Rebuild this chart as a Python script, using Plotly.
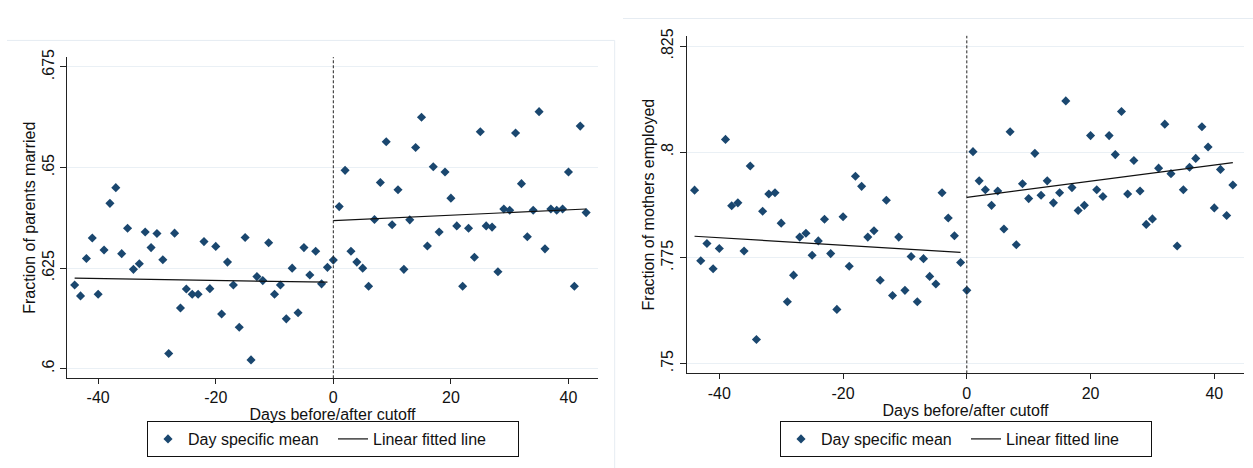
import plotly.graph_objects as go

# ---------------- data ----------------
days_pre = [-44, -43, -42, -41, -40, -39, -38, -37, -36, -35, -34, -33, -32, -31, -30,
            -29, -28, -27, -26, -25, -24, -23, -22, -21, -20, -19, -18, -17, -16, -15,
            -14, -13, -12, -11, -10, -9, -8, -7, -6, -5, -4, -3, -2, -1]
days_post = [0, 1, 2, 3, 4, 5, 6, 7, 8, 9, 10, 11, 12, 13, 14, 15, 16, 17, 18, 19, 20,
             21, 22, 23, 24, 25, 26, 27, 28, 29, 30, 31, 32, 33, 34, 35, 36, 37, 38, 39,
             40, 41, 42, 43]

married_pre = [.6208, .6181, .6274, .6325, .6185, .6295, .6411, .6450, .6286, .6349,
               .6247, .6261, .6340, .6301, .6336, .6271, .6038, .6337, .6151, .6198,
               .6185, .6185, .6316, .6199, .6304, .6136, .6265, .6208, .6103, .6326,
               .6022, .6229, .6219, .6313, .6185, .6208, .6124, .6250, .6139, .6301,
               .6233, .6292, .6211, .6252]
married_post = [.6270, .6403, .6493, .6292, .6265, .6250, .6205, .6371, .6463, .6564,
                .6358, .6445, .6247, .6370, .6550, .6625, .6305, .6502, .6340, .6489,
                .6424, .6355, .6205, .6349, .6277, .6589, .6355, .6352, .6241, .6397,
                .6394, .6586, .6460, .6328, .6394, .6639, .6298, .6397, .6394, .6397,
                .6489, .6205, .6603, .6388]

employed_pre = [.7910, .7743, .7784, .7724, .7772, .8030, .7873, .7880, .7766, .7967,
                .7557, .7860, .7901, .7904, .7832, .7646, .7709, .7799, .7808, .7756,
                .7790, .7841, .7760, .7628, .7847, .7730, .7943, .7919, .7799, .7814,
                .7697, .7886, .7661, .7799, .7673, .7753, .7646, .7748, .7706, .7688,
                .7904, .7844, .7802, .7739]
employed_post = [.7673, .8001, .7932, .7911, .7874, .7908, .7818, .8048, .7781, .7925,
                 .7890, .7997, .7898, .7932, .7880, .7904, .8121, .7916, .7862, .7874,
                 .8039, .7911, .7895, .8039, .7994, .8096, .7901, .7980, .7908, .7829,
                 .7842, .7962, .8066, .7949, .7778, .7911, .7964, .7985, .8060, .8012,
                 .7868, .7959, .7850, .7922]

# fitted line end points
fit_pre_x = [-44, -1]
fit_post_x = [0, 43]
married_fit_pre = [.6225, .6215]
married_fit_post = [.6368, .6397]
employed_fit_pre = [.7801, .7763]
employed_fit_post = [.7893, .7975]

x_ticks = [-40, -20, 0, 20, 40]
x_ticktext = ["-40", "-20", "0", "20", "40"]
married_ticks = [.6, .625, .65, .675]
married_ticktext = [".6", ".625", ".65", ".675"]
employed_ticks = [.75, .775, .8, .825]
employed_ticktext = [".75", ".775", ".8", ".825"]

# ---------------- styling ----------------
W, H = 1253, 468
FONT = "Arial, 'Liberation Sans', Helvetica, sans-serif"
NAVY = "#1a476f"
GRID = "#eaf0f5"
AX = "#222222"
FS = 16

def px(x):
    return x / W

def py(y):
    return (H - y) / H

fig = go.Figure()

def add_panel(xa, ya, legend, pre, post, fpre, fpost):
    sfx = "" if xa == "x" else xa[1:]
    fig.add_trace(go.Scatter(
        x=days_pre + days_post, y=pre + post, mode="markers",
        name="Day specific mean", xaxis=xa, yaxis=ya, legend=legend,
        marker=dict(symbol="diamond", size=7, color=NAVY, line=dict(width=0)),
    ))
    fig.add_trace(go.Scatter(
        x=fit_pre_x, y=fpre, mode="lines", name="Linear fitted line",
        xaxis=xa, yaxis=ya, legend=legend, legendgroup="fit" + sfx,
        line=dict(color="#111111", width=1.2),
    ))
    fig.add_trace(go.Scatter(
        x=fit_post_x, y=fpost, mode="lines", name="Linear fitted line",
        xaxis=xa, yaxis=ya, legend=legend, legendgroup="fit" + sfx, showlegend=False,
        line=dict(color="#111111", width=1.2),
    ))

add_panel("x", "y", "legend", married_pre, married_post, married_fit_pre, married_fit_post)
add_panel("x2", "y2", "legend2", employed_pre, employed_post, employed_fit_pre, employed_fit_post)

common_x = dict(
    tickmode="array", tickvals=x_ticks, ticktext=x_ticktext,
    showline=True, linecolor=AX, linewidth=1, mirror=False,
    ticks="outside", ticklen=5, tickcolor=AX, tickwidth=1,
    showgrid=False, zeroline=False,
    tickfont=dict(family=FONT, size=FS, color="#111"),
    title=dict(text="Days before/after cutoff", font=dict(family=FONT, size=FS, color="#111"),
               standoff=0),
)
common_y = dict(
    tickmode="array", tickangle=-90,
    showline=True, linecolor=AX, linewidth=1, mirror=False,
    ticks="outside", ticklen=6, tickcolor=AX, tickwidth=1,
    showgrid=True, gridcolor=GRID, gridwidth=1, zeroline=False,
    tickfont=dict(family=FONT, size=FS, color="#111"),
)

legend_common = dict(orientation="h", xanchor="center", yanchor="middle",
                     bordercolor="#111", borderwidth=1, bgcolor="white",
                     font=dict(family=FONT, size=FS, color="#111"), itemwidth=30,
                     entrywidth=140, traceorder="normal")

fig.update_layout(
    width=W, height=H, autosize=False,
    margin=dict(l=0, r=0, t=0, b=0),
    paper_bgcolor="white", plot_bgcolor="white",
    font=dict(family=FONT, size=FS, color="#111"),
    xaxis=dict(common_x, domain=[px(67.3), px(597.7)], range=[-45.25, 44.97], anchor="y"),
    yaxis=dict(common_y, domain=[py(376.7), py(50)], range=[.59763, .67744], anchor="x",
               tickvals=married_ticks, ticktext=married_ticktext,
               title=dict(text="Fraction of parents married",
                          font=dict(family=FONT, size=FS, color="#111"), standoff=0)),
    xaxis2=dict(common_x, domain=[px(686.7), px(1244.3)], range=[-45.27, 44.85], anchor="y2"),
    yaxis2=dict(common_y, domain=[py(371.7), py(28.3)], range=[.74768, .82749], anchor="x2",
                tickvals=employed_ticks, ticktext=employed_ticktext,
                title=dict(text="Fraction of mothers employed",
                           font=dict(family=FONT, size=FS, color="#111"), standoff=0)),
    legend=dict(legend_common, x=px(333), y=py(438.5)),
    legend2=dict(legend_common, x=px(966), y=py(438.5)),
    shapes=[
        dict(type="line", xref="x", yref="y domain", x0=0, x1=0, y0=0, y1=1,
             line=dict(color="#222", width=1, dash="3px,2px")),
        dict(type="line", xref="x2", yref="y2 domain", x0=0, x1=0, y0=0, y1=1,
             line=dict(color="#222", width=1, dash="3px,2px")),
        # faint panel borders
        dict(type="line", xref="paper", yref="paper", x0=px(7), x1=px(614.7), y0=py(33), y1=py(33),
             line=dict(color="#e6ecf2", width=1)),
        dict(type="line", xref="paper", yref="paper", x0=px(614.7), x1=px(614.7), y0=py(33), y1=0,
             line=dict(color="#e6ecf2", width=1)),
        dict(type="line", xref="paper", yref="paper", x0=px(623), x1=1, y0=py(10.7), y1=py(10.7),
             line=dict(color="#e6ecf2", width=1)),
    ],
)

fig.write_html("out.html")
